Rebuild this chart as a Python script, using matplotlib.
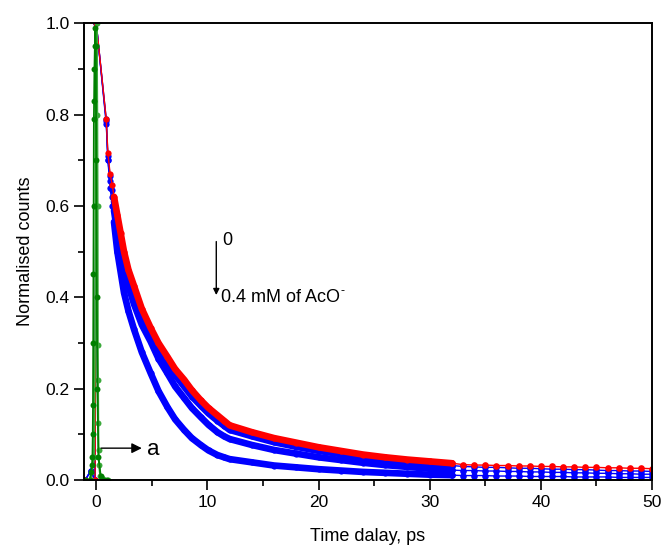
"""
Normalised decay traces vs time delay, with the instrument response near t = 0.
"""

import numpy as np
import matplotlib
matplotlib.use("Agg")
import matplotlib.pyplot as plt
from matplotlib.ticker import MultipleLocator

plt.rcParams['font.family'] = ['Liberation Sans', 'DejaVu Sans']

# time points (ps) of the fast part
t_fast = [-1.0, -0.5, -0.1, 0.0, 0.9, 1.05, 1.25, 1.45, 1.6, 1.9, 2.2, 2.5,
          2.9, 3.4, 4.1, 4.9, 5.6, 6.4, 7.1, 7.9, 8.6, 9.4, 10.1, 10.9, 11.5,
          12.0, 14.0, 16.0, 18.0, 20.0, 22.0, 24.0, 26.0, 28.0, 30.0, 32.0]
# 0 mM (red)
red_fast = [0.0, 0.0, 0.0, 1.0, 0.79, 0.715, 0.67, 0.645, 0.62, 0.58, 0.54,
            0.50, 0.46, 0.425, 0.375, 0.333, 0.30, 0.27, 0.243, 0.22, 0.197,
            0.175, 0.158, 0.142, 0.13, 0.12, 0.105, 0.092, 0.082, 0.072,
            0.064, 0.056, 0.05, 0.045, 0.041, 0.037]
# increasing AcO- (blue)
blue1_fast = [0.0, 0.02, 0.0, 1.0, 0.79, 0.71, 0.665, 0.635, 0.61, 0.565,
              0.525, 0.485, 0.45, 0.41, 0.36, 0.318, 0.285, 0.255, 0.23,
              0.205, 0.183, 0.163, 0.146, 0.13, 0.119, 0.11, 0.096, 0.083,
              0.073, 0.064, 0.057, 0.05, 0.045, 0.04, 0.036, 0.032]
blue2_fast = [0.0, 0.02, 0.0, 1.0, 0.785, 0.70, 0.655, 0.62, 0.59, 0.54,
              0.50, 0.46, 0.425, 0.385, 0.34, 0.303, 0.266, 0.234, 0.205,
              0.18, 0.158, 0.138, 0.121, 0.105, 0.096, 0.09, 0.077, 0.066,
              0.058, 0.05, 0.044, 0.038, 0.033, 0.029, 0.025, 0.022]
blue3_fast = [0.0, 0.02, 0.0, 1.0, 0.78, 0.70, 0.64, 0.60, 0.565, 0.50,
              0.455, 0.41, 0.37, 0.33, 0.28, 0.234, 0.195, 0.16, 0.133, 0.11,
              0.092, 0.077, 0.065, 0.055, 0.05, 0.046, 0.039, 0.032, 0.028,
              0.024, 0.021, 0.018, 0.016, 0.014, 0.012, 0.011]

# long tail, one point per ps
t_tail = [33, 34, 35, 36, 37, 38, 39, 40, 41, 42, 43, 44, 45, 46, 47, 48,
          49, 50]
red_tail = [0.034, 0.033, 0.033, 0.032, 0.032, 0.031, 0.031, 0.030, 0.030,
            0.029, 0.029, 0.028, 0.028, 0.027, 0.027, 0.026, 0.026, 0.025]
blue1_tail = [0.030, 0.029, 0.028, 0.028, 0.027, 0.026, 0.026, 0.025, 0.024,
              0.024, 0.023, 0.023, 0.022, 0.021, 0.021, 0.020, 0.020, 0.019]
blue2_tail = [0.021, 0.021, 0.020, 0.020, 0.019, 0.019, 0.018, 0.018, 0.017,
              0.017, 0.016, 0.016, 0.015, 0.015, 0.014, 0.014, 0.013, 0.013]
blue3_tail = [0.010, 0.010, 0.010, 0.009, 0.009, 0.009, 0.008, 0.008, 0.008,
              0.008, 0.007, 0.007, 0.007, 0.007, 0.006, 0.006, 0.006, 0.006]

# instrument response (green)
t_irf = [-1.0, -0.6, -0.45, -0.38, -0.34, -0.31, -0.29, -0.27, -0.25, -0.23,
         -0.21, -0.19, -0.16, -0.12, -0.08, -0.04, 0.0, 0.05, 0.1, 0.2, 0.4,
         0.7, 1.0]
irf = [0.0, 0.0, 0.018, 0.033, 0.05, 0.1, 0.164, 0.3, 0.45, 0.6, 0.79, 0.83,
       0.9, 0.95, 0.99, 0.95, 0.7, 0.4, 0.2, 0.05, 0.01, 0.0, 0.0]
t_irf2 = [-0.5, -0.2, -0.1, -0.05, 0.0, 0.05, 0.1, 0.13, 0.15, 0.17, 0.19,
          0.21, 0.25, 0.35, 0.5, 0.8, 1.1]
irf2 = [0.0, 0.05, 0.3, 0.6, 0.95, 1.0, 0.8, 0.6, 0.295, 0.22, 0.125, 0.066,
        0.033, 0.01, 0.005, 0.0, 0.0]


fig = plt.figure(figsize=(6.64, 5.5), dpi=100)
ax = fig.add_axes([0.1265, 0.127, 0.8555, 0.831])

t_fast_arr = np.array(t_fast)
band = (t_fast_arr >= 1.6)

series = [
    (blue3_fast, blue3_tail, '#0000FF'),
    (blue2_fast, blue2_tail, '#0000FF'),
    (blue1_fast, blue1_tail, '#0000FF'),
    (red_fast, red_tail, '#FF0000'),
]

for fast, tail, col in series:
    fast = np.array(fast)
    # the dense markers merge into a thick band
    ax.plot(t_fast_arr[band], fast[band], color=col, lw=4.8,
            solid_capstyle='round', solid_joinstyle='round')
    ax.plot(t_fast, fast, color=col, lw=1.0, marker='o', ms=4.5,
            markeredgewidth=0)
    ax.plot([t_fast[-1]] + t_tail, [fast[-1]] + tail, color=col, lw=1.0,
            marker='o', ms=4.8, markeredgewidth=0)

ax.plot(t_irf2, irf2, color='#3CAA3C', lw=1.3, marker='o', ms=4.3,
        markeredgewidth=0)
ax.plot(t_irf, irf, color='#007F00', lw=1.3, marker='o', ms=4.3,
        markeredgewidth=0)

# annotations
ax.annotate('', xy=(10.8, 0.405), xytext=(10.8, 0.522),
            arrowprops=dict(arrowstyle='-|>', color='black', lw=1.0,
                            mutation_scale=9, shrinkA=0, shrinkB=0))
ax.text(11.3, 0.525, '0', fontsize=13, va='center', ha='left')
conc = ax.text(11.2, 0.40, '0.4 mM of AcO', fontsize=13, va='center',
               ha='left')
ax.annotate('-', xy=(1.0, 1.0), xycoords=conc, xytext=(0.5, 3),
            textcoords='offset points', fontsize=9, va='top', ha='left')

ax.annotate('', xy=(4.1, 0.07), xytext=(0.45, 0.07),
            arrowprops=dict(arrowstyle='-|>', color='black', lw=1.0,
                            mutation_scale=15, shrinkA=0, shrinkB=0))
ax.text(4.6, 0.068, 'a', fontsize=16, va='center', ha='left')

ax.set_xlim(-1.1, 50)
ax.set_ylim(0, 1.0)
ax.xaxis.set_major_locator(MultipleLocator(10))
ax.xaxis.set_minor_locator(MultipleLocator(5))
ax.yaxis.set_major_locator(MultipleLocator(0.2))
ax.yaxis.set_minor_locator(MultipleLocator(0.1))
ax.yaxis.set_major_formatter(plt.FormatStrFormatter('%.1f'))
ax.tick_params(which='both', direction='out', top=False, right=False,
               labelsize=12.5, width=1.2)
ax.tick_params(which='major', length=7)
ax.tick_params(which='minor', length=4)
for sp in ax.spines.values():
    sp.set_linewidth(1.4)

ax.set_xlabel('Time dalay, ps', fontsize=13, labelpad=13)
ax.set_ylabel('Normalised counts', fontsize=13, labelpad=8)

fig.savefig('out.png', dpi=100)
